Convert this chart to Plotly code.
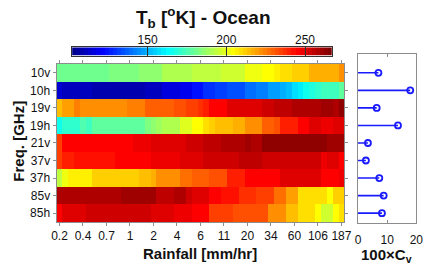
import plotly.graph_objects as go

# ---------------- data ----------------
channels = ["10v", "10h", "19v", "19h", "21v", "37v", "37h", "85v", "85h"]
rain_tick_labels = ["0.2", "0.4", "0.7", "1", "2", "4", "6", "11", "20", "34", "60", "106", "187"]
n_bins = 49  # rainfall bins (ticks every 4th bin)

tb_10v = [181]*9 + [182]*5 + [185]*4 + [190]*5 + [194]*5 + [197]*4 + [200]*3 + [203]*2 + [206] + [209]*2 + [212]*3 + [216]*3 + [218]*2 + [222]
tb_10h = [113] + [110]*5 + [108]*5 + [109]*4 + [111]*3 + [115]*3 + [120]*2 + [123]*2 + [128]*2 + [131]*2 + [135]*3 + [139]*2 + [142]*2 + [146]*2 + [150, 153, 157, 161, 164, 167, 170, 172, 173, 174, 177]
tb_19v = [215, 220, 220, 224, 221, 221] + [223]*6 + [225]*3 + [229]*5 + [232]*2 + [234]*2 + [238, 241] + [245]*3 + [249]*3 + [251]*3 + [252]*2 + [255]*3 + [259]*5 + [260]*2 + [258, 262]
tb_19h = [164] + [171]*3 + [176, 172] + [179]*9 + [182, 185, 188] + [192]*3 + [199]*2 + [205]*2 + [208, 212] + [214]*3 + [217]*2 + [221]*3 + [229]*2 + [232] + [240]*3 + [246]*2 + [249]*2 + [248]*2 + [250]*2
tb_21v = [236] + [246]*12 + [248]*3 + [249]*2 + [251]*4 + [254]*3 + [255]*3 + [258]*4 + [261] + [259]*2 + [264]*11 + [261]*3
tb_37v = [236] + [240]*2 + [243]*7 + [246]*6 + [248]*5 + [250]*4 + [253]*6 + [255]*4 + [254]*4 + [252]*6 + [248] + [249]*2 + [244]
tb_37h = [193, 201] + [206]*4 + [211]*5 + [212]*3 + [214]*2 + [217, 221] + [223]*3 + [226]*2 + [230]*3 + [233]*3 + [240]*3 + [244]*2 + [246]*4 + [249]*7 + [244]*2 + [245, 248]
tb_85v = [258]*11 + [261]*5 + [260] + [255]*3 + [258]*2 + [252] + [250]*3 + [246]*2 + [242]*3 + [238]*3 + [234]*3 + [227]*2 + [219]*2 + [208]*5 + [203] + [211]*2
tb_85h = [246] + [250]*4 + [253]*9 + [252]*2 + [250]*4 + [248]*3 + [244]*3 + [236]*4 + [233]*2 + [231]*4 + [222]*3 + [214]*2 + [208]*3 + [204] + [196]*2 + [204, 210]

cv_100 = [7.0, 17.9, 6.4, 13.7, 3.4, 2.7, 7.3, 8.8, 8.2]

tb_min, tb_max = 102, 267
cbar_ticks = [150, 200, 250]
cv_ticks = [0, 10, 20]

z = [tb_10v, tb_10h, tb_19v, tb_19h, tb_21v, tb_37v, tb_37h, tb_85v, tb_85h]

# ---------------- style ----------------
def clip(v):
    return max(0.0, min(1.0, v))

N = 64
jet = []
for i in range(N):
    x = (i + 1) / N
    r = clip(min(4*x - 1.5, -4*x + 4.5))
    g = clip(min(4*x - 0.5, -4*x + 3.5))
    b = clip(min(4*x + 0.5, -4*x + 2.5))
    jet.append(f"rgb({int(r*255)},{int(g*255)},{int(b*255)})")
cscale = []
for i in range(N):
    cscale.append([i / N, jet[i]])
    cscale.append([(i + 1) / N, jet[i]])

FONT = "Liberation Sans, Arial, sans-serif"
TXT = "#111111"
GRID = "#8c8c8c"

fig = go.Figure()

# main heatmap
fig.add_trace(go.Heatmap(
    z=z, x=list(range(n_bins)), y=list(range(len(channels))),
    colorscale=cscale, zmin=tb_min, zmax=tb_max, showscale=False,
    xaxis="x", yaxis="y"))

# colour bar drawn as its own small heatmap
step = (tb_max - tb_min) / N
levels = [tb_min + (i + 0.5) * step for i in range(N)]
fig.add_trace(go.Heatmap(
    z=[levels], x=levels, y=[0], colorscale=cscale, zmin=tb_min, zmax=tb_max,
    showscale=False, xaxis="x3", yaxis="y3"))

# stem plot
sx, sy = [], []
for i, v in enumerate(cv_100):
    sx += [0, v, None]
    sy += [i, i, None]
fig.add_trace(go.Scatter(x=sx, y=sy, mode="lines", line=dict(color="#1a1aff", width=1.6),
                         xaxis="x2", yaxis="y2", hoverinfo="skip"))
fig.add_trace(go.Scatter(x=cv_100, y=list(range(len(channels))), mode="markers",
                         marker=dict(symbol="circle-open", size=6, color="#1a1aff",
                                     line=dict(width=1.8, color="#1a1aff")),
                         xaxis="x2", yaxis="y2"))

tickfont = dict(family=FONT, size=12, color=TXT)
nrows = len(channels)

fig.update_layout(
    width=436, height=267, margin=dict(l=0, r=0, t=0, b=0),
    paper_bgcolor="white", plot_bgcolor="white", showlegend=False,
    font=dict(family=FONT, color=TXT),
    xaxis=dict(domain=[0.12156, 0.80046], range=[-0.5, n_bins - 0.5],
               tickvals=list(range(0, n_bins, 4)), ticktext=rain_tick_labels,
               ticks="outside", ticklen=3, tickcolor=GRID, showline=True, linecolor=GRID,
               linewidth=1, mirror="ticks", tickfont=tickfont, showgrid=False, zeroline=False,
               anchor="y"),
    yaxis=dict(domain=[0.16854, 0.76030], range=[nrows - 0.5, -0.5],
               tickvals=list(range(nrows)), ticktext=channels,
               ticks="outside", ticklen=3, tickcolor=GRID, showline=True, linecolor=GRID,
               linewidth=1, mirror="ticks", tickfont=tickfont, showgrid=False, zeroline=False,
               anchor="x"),
    xaxis2=dict(domain=[0.83257, 0.97018], range=[0, 20], tickvals=cv_ticks,
                ticks="inside", ticklen=3, tickcolor=GRID, showline=True, linecolor=GRID,
                mirror="ticks", tickfont=tickfont, showgrid=False, zeroline=False,
                ticklabelstandoff=6, anchor="y2"),
    yaxis2=dict(domain=[0.16479, 0.79775], range=[nrows - 0.44, -1.07],
                showticklabels=False, ticks="", showline=True, linecolor=GRID,
                mirror=True, showgrid=False, zeroline=False, anchor="x2"),
    xaxis3=dict(domain=[0.15826, 0.77064], range=[tb_min, tb_max], side="top",
                tickvals=cbar_ticks, ticks="inside", ticklen=9, tickcolor="#333333",
                tickwidth=1, showline=True, linecolor="#333333", mirror=True,
                tickfont=tickfont, showgrid=False, zeroline=False, anchor="y3",
                ticklabelstandoff=-3),
    yaxis3=dict(domain=[0.79139, 0.82285], range=[-0.5, 0.5], showticklabels=False,
                ticks="", showline=True, linecolor="#333333", mirror=True,
                showgrid=False, zeroline=False, anchor="x3"),
)

ann_font = dict(family=FONT, size=15, color=TXT)
fig.add_annotation(text="<b>T<sub>b</sub> [<sup>o</sup>K] - Ocean</b>", x=0.468, y=1 - 17/267,
                   xref="paper", yref="paper", showarrow=False,
                   font=dict(family=FONT, size=19, color=TXT), xanchor="center", yanchor="middle")
fig.add_annotation(text="<b>Rainfall [mm/hr]</b>", x=201/436, y=1 - 253/267,
                   xref="paper", yref="paper", showarrow=False, font=ann_font,
                   xanchor="center", yanchor="middle")
fig.add_annotation(text="<b>Freq. [GHz]</b>", x=13/436, y=1 - 141/267, textangle=-90,
                   xref="paper", yref="paper", showarrow=False, font=ann_font,
                   xanchor="center", yanchor="middle")
fig.add_annotation(text="<b>100×C<sub>v</sub></b>", x=392/436, y=1 - 255/267,
                   xref="paper", yref="paper", showarrow=False, font=ann_font,
                   xanchor="center", yanchor="middle")

fig.write_html("out.html", config={"displayModeBar": False},
               post_script="document.body.style.margin='0';")
